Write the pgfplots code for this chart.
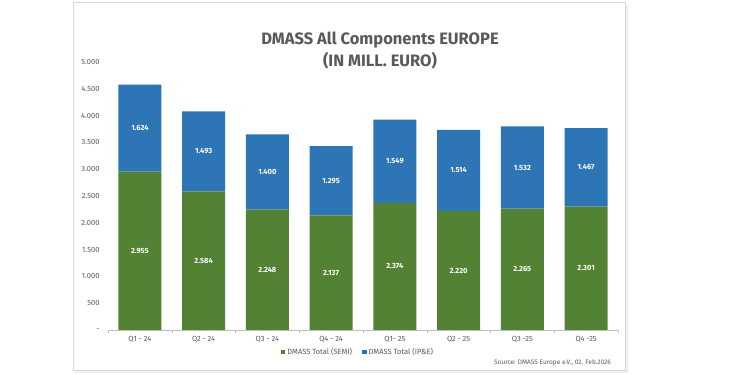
\documentclass[border=0pt]{standalone}
\usepackage{pgfplots}
\pgfplotsset{compat=1.18}
\usepackage{fontspec}
\setmainfont{Fira Sans}
\definecolor{semi}{HTML}{548235}
\definecolor{ipe}{HTML}{2E75B6}
\definecolor{txt}{HTML}{595959}
\definecolor{framec}{HTML}{D9D9D9}
\definecolor{axc}{HTML}{BFBFBF}
\begin{document}
\begin{tikzpicture}[x=1pt,y=1pt]
\useasboundingbox[fill=white] (0,0) rectangle (750,375);
\fill[black!6] (75,2) rectangle (628,370);
\draw[framec, line width=1pt, fill=white] (73,4) rectangle (625,372);
\node[font=\bfseries\fontsize{16.5}{19}\selectfont, text=txt] at (380,335) {DMASS All Components EUROPE};
\node[font=\bfseries\fontsize{16.5}{19}\selectfont, text=txt] at (380,314) {(IN MILL. EURO)};
\node[anchor=east, font=\fontsize{6.5}{8}\selectfont, text=txt, inner sep=0pt] at (611,12) {Source: DMASS Europe e.V., 02. Feb.2026};
\begin{axis}[
  at={(108pt,45pt)}, anchor=south west,
  scale only axis, width=510pt, height=268pt,
  xmin=-0.5, xmax=7.5, ymin=0, ymax=5000,
  ybar stacked, bar width=43pt,
  xtick={0,...,7},
  xticklabels={Q1 - 24,Q2 - 24,Q3 - 24,Q4 - 24,Q1- 25,Q2 - 25,Q3 -25,Q4 -25},
  minor xtick={-0.5,0.5,...,7.5},
  ytick={0,500,...,5000},
  yticklabels={-,500,1.000,1.500,2.000,2.500,3.000,3.500,4.000,4.500,5.000},
  axis lines=left,
  x axis line style={-, draw=axc},
  y axis line style={draw=none},
  tick align=outside,
  major tick length=0pt,
  minor tick length=3pt,
  minor tick style={draw=axc},
  tick label style={font=\fontsize{7.5}{9}\selectfont, text=txt},
  xticklabel style={yshift=-3pt},
  yticklabel style={xshift=-5pt},
  legend style={at={(0.49,-0.082)}, anchor=center, draw=none, fill=none,
    legend columns=2, font=\fontsize{7.5}{9}\selectfont, text=txt,
    /tikz/every even column/.append style={column sep=8pt}},
  legend image code/.code={\fill[#1] (0pt,-2.3pt) rectangle (4.6pt,2.3pt);},
  point meta=explicit symbolic,
  nodes near coords,
  every node near coord/.append style={font=\bfseries\fontsize{7.5}{9}\selectfont, text=white, anchor=center},
]
\addplot[fill=semi, draw=none] coordinates {
(0,2955)[2.955] (1,2584)[2.584] (2,2248)[2.248] (3,2137)[2.137]
(4,2374)[2.374] (5,2220)[2.220] (6,2265)[2.265] (7,2301)[2.301]};
\addlegendentry{DMASS Total (SEMI)}
\addplot[fill=ipe, draw=none] coordinates {
(0,1624)[1.624] (1,1493)[1.493] (2,1400)[1.400] (3,1295)[1.295]
(4,1549)[1.549] (5,1514)[1.514] (6,1532)[1.532] (7,1467)[1.467]};
\addlegendentry{DMASS Total (IP\&E)}
\end{axis}
\end{tikzpicture}
\end{document}
